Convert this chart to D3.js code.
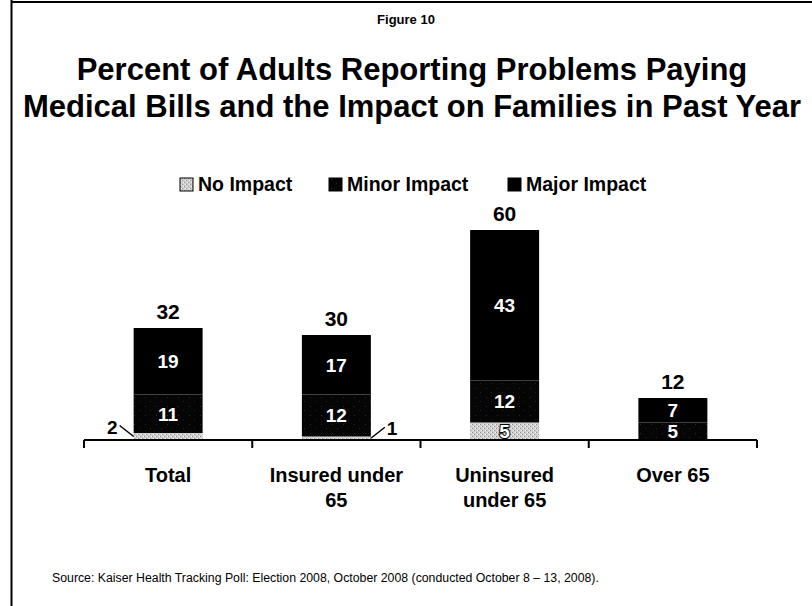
<!DOCTYPE html>
<html>
<head>
<meta charset="utf-8">
<script src="https://cdn.jsdelivr.net/npm/d3@7/dist/d3.min.js"></script>
<style>
  html, body { margin: 0; padding: 0; background: #fff; }
  svg { display: block; }
  .sans { font-family: "Liberation Sans", Arial, sans-serif; }
</style>
</head>
<body>
<svg id="chart" width="812" height="606"></svg>
<script>
// ---- data ----
const categories = ["Total", "Insured under 65", "Uninsured under 65", "Over 65"];
const seriesNames = ["No Impact", "Minor Impact", "Major Impact"];
const noImpact    = [2, 1, 5, 0];
const minorImpact = [11, 12, 12, 5];
const majorImpact = [19, 17, 43, 7];
const totals      = [32, 30, 60, 12];
const categoryLines = [["Total"], ["Insured under", "65"], ["Uninsured", "under 65"], ["Over 65"]];

const titleLines = ["Percent of Adults Reporting Problems Paying",
                    "Medical Bills and the Impact on Families in Past Year"];
const figureLabel = "Figure 10";
const sourceText = "Source: Kaiser Health Tracking Poll: Election 2008, October 2008 (conducted October 8 \u2013 13, 2008).";

// ---- setup ----
const svg = d3.select("#chart");
const W = 812, H = 606;
const baseY = 440;

const defs = svg.append("defs");
// light dithered grey for "No Impact"
const pNo = defs.append("pattern").attr("id", "pNo")
  .attr("width", 4).attr("height", 4).attr("patternUnits", "userSpaceOnUse");
pNo.append("rect").attr("width", 4).attr("height", 4).attr("fill", "#cfcfcf");
pNo.append("rect").attr("x", 0).attr("y", 0).attr("width", 1).attr("height", 1).attr("fill", "#959595");
pNo.append("rect").attr("x", 2).attr("y", 2).attr("width", 1).attr("height", 1).attr("fill", "#959595");
pNo.append("rect").attr("x", 1).attr("y", 2).attr("width", 1).attr("height", 1).attr("fill", "#f2f2f2");
pNo.append("rect").attr("x", 3).attr("y", 0).attr("width", 1).attr("height", 1).attr("fill", "#f2f2f2");
// near-black with faint sparse speckles for "Minor Impact"
const pMinor = defs.append("pattern").attr("id", "pMinor")
  .attr("width", 11).attr("height", 9).attr("patternUnits", "userSpaceOnUse");
pMinor.append("rect").attr("width", 11).attr("height", 9).attr("fill", "#050505");
pMinor.append("rect").attr("x", 2).attr("y", 1).attr("width", 1).attr("height", 1).attr("fill", "#2c2c2c");
pMinor.append("rect").attr("x", 7).attr("y", 5).attr("width", 1).attr("height", 1).attr("fill", "#242424");

const fills = ["url(#pNo)", "url(#pMinor)", "#000"];

// frame
svg.append("line").attr("x1", 11.5).attr("x2", 11.5).attr("y1", 0).attr("y2", H)
  .attr("stroke", "#000").attr("stroke-width", 2);
svg.append("line").attr("x1", 11).attr("x2", W).attr("y1", 2).attr("y2", 2)
  .attr("stroke", "#000").attr("stroke-width", 2);

// headings
svg.append("text").attr("class", "sans").attr("x", 406).attr("y", 24)
  .attr("text-anchor", "middle").attr("font-size", 13).attr("font-weight", "bold")
  .text(figureLabel);
svg.selectAll("text.title").data(titleLines).join("text")
  .attr("class", "title sans").attr("x", 412).attr("y", (d, i) => 80 + i * 37)
  .attr("text-anchor", "middle").attr("font-size", 31).attr("font-weight", "bold")
  .text(d => d);

// scales
const x = d3.scaleBand().domain(categories).range([84, 757]).paddingInner(0.59).paddingOuter(0.295);
const y = d3.scaleLinear().domain([0, 60]).range([baseY, baseY - 60 * 3.5]);

// stacked data
const rows = categories.map((c, i) => ({
  category: c, "No Impact": noImpact[i], "Minor Impact": minorImpact[i], "Major Impact": majorImpact[i]
}));
const stacked = d3.stack().keys(seriesNames)(rows);

const layers = svg.append("g").selectAll("g").data(stacked).join("g")
  .attr("fill", (d, i) => fills[i]);
layers.selectAll("rect").data(d => d.filter(s => s[1] - s[0] > 0)).join("rect")
  .attr("x", d => x(d.data.category))
  .attr("width", x.bandwidth())
  .attr("y", d => y(d[1]))
  .attr("height", d => y(d[0]) - y(d[1]));

// value labels inside segments (or outside with a leader for very thin ones)
const outsideSide = { "Total": -1, "Insured under 65": 1 };
stacked.forEach((layer, li) => {
  layer.forEach(seg => {
    const v = seg[1] - seg[0];
    if (v <= 0) return;
    const c = seg.data.category;
    const cx = x(c) + x.bandwidth() / 2;
    const cy = (y(seg[0]) + y(seg[1])) / 2;
    if (v < 3) {
      const side = outsideSide[c];
      const edge = side < 0 ? x(c) : x(c) + x.bandwidth();
      svg.append("line")
        .attr("x1", edge).attr("y1", cy)
        .attr("x2", edge + side * 14).attr("y2", cy - 11)
        .attr("stroke", "#000").attr("stroke-width", 1.5);
      svg.append("text").attr("class", "sans")
        .attr("x", edge + side * 16).attr("y", cy - 3)
        .attr("text-anchor", side < 0 ? "end" : "start")
        .attr("font-size", 19).attr("font-weight", "bold").attr("fill", "#000")
        .text(v);
    } else {
      svg.append("text").attr("class", "sans")
        .attr("x", cx).attr("y", cy).attr("dy", "0.36em")
        .attr("text-anchor", "middle")
        .attr("font-size", 19).attr("font-weight", "bold")
        .attr("fill", "#fff")
        .attr("stroke", li === 0 ? "#000" : "none").attr("stroke-width", li === 0 ? 2 : 0)
        .attr("paint-order", "stroke")
        .text(v);
    }
  });
});

// totals above bars
svg.append("g").selectAll("text").data(categories).join("text")
  .attr("class", "sans")
  .attr("x", c => x(c) + x.bandwidth() / 2)
  .attr("y", (c, i) => y(totals[i]) - 9)
  .attr("text-anchor", "middle").attr("font-size", 21).attr("font-weight", "bold")
  .text((c, i) => totals[i]);

// category axis with boundary ticks
const step = x.step();
const boundaries = d3.range(categories.length + 1).map(i => x.range()[0] + i * step);
const axis = svg.append("g");
axis.append("line").attr("x1", x.range()[0]).attr("x2", x.range()[1]).attr("y1", baseY).attr("y2", baseY)
  .attr("stroke", "#000").attr("stroke-width", 2);
axis.selectAll("line.tick").data(boundaries).join("line").attr("class", "tick")
  .attr("x1", d => d).attr("x2", d => d).attr("y1", baseY).attr("y2", baseY + 8)
  .attr("stroke", "#000").attr("stroke-width", 2);
axis.selectAll("text").data(categories).join("text")
  .attr("class", "sans")
  .attr("x", c => x(c) + x.bandwidth() / 2).attr("y", 482)
  .attr("text-anchor", "middle").attr("font-size", 20).attr("font-weight", "bold")
  .each(function(c, i) {
    d3.select(this).selectAll("tspan").data(categoryLines[i]).join("tspan")
      .attr("x", x(c) + x.bandwidth() / 2)
      .attr("dy", (d, j) => j === 0 ? 0 : 25)
      .text(d => d);
  });

// legend
const legendX = [180, 329, 508];
const legend = svg.append("g").selectAll("g").data(seriesNames).join("g")
  .attr("transform", (d, i) => `translate(${legendX[i]},178)`);
legend.append("rect").attr("width", 13).attr("height", 13)
  .attr("fill", (d, i) => fills[i]).attr("stroke", "#000").attr("stroke-width", 1);
legend.append("text").attr("class", "sans").attr("x", 18).attr("y", 13)
  .attr("font-size", 19.5).attr("font-weight", "bold").text(d => d);

// source note
svg.append("text").attr("class", "sans").attr("x", 52).attr("y", 582)
  .attr("font-size", 12.3).text(sourceText);
</script>
</body>
</html>
